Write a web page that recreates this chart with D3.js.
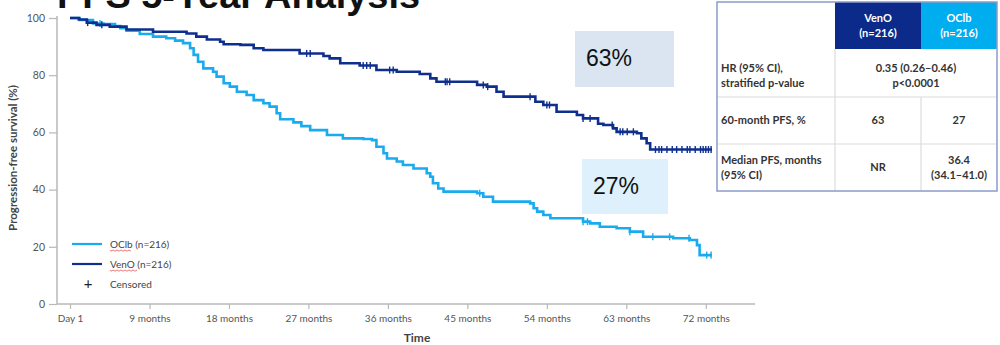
<!DOCTYPE html>
<html>
<head>
<meta charset="utf-8">
<script src="https://cdn.jsdelivr.net/npm/d3@7"></script>
<style>
  html, body { margin: 0; padding: 0; background: #fff; }
  svg { display: block; }
</style>
</head>
<body>
<svg id="chart" width="1000" height="345"></svg>
<script>
// Kaplan–Meier progression-free survival, 5-year analysis
const xTickMonths = [0, 9, 18, 27, 36, 45, 54, 63, 72];
const xTickLabels = ["Day 1", "9 months", "18 months", "27 months", "36 months",
                     "45 months", "54 months", "63 months", "72 months"];
const yTickValues = [0, 20, 40, 60, 80, 100];

// VenO arm: step points (month, % progression-free)
const venoMonths = [0, 1.0, 1.9, 3.0, 4.5, 6.4, 9.4, 13.2, 14.3, 15.5, 17.0, 17.4, 19.3, 20.8, 21.9,
  26.0, 28.7, 29.4, 30.6, 32.8, 34.7, 37.0, 39.6, 40.8, 41.5, 46.1, 47.2, 48.3, 49.1, 52.7, 53.6,
  55.1, 57.4, 58.1, 59.8, 60.4, 61.5, 61.9, 64.2, 64.7, 65.3, 65.7, 72.7];
const venoPfs = [100, 99.5, 98.4, 97.6, 97, 96, 95.2, 94.6, 93.5, 92.5, 91.7, 90.8, 90.6, 89.4, 88.8,
  87.6, 86.7, 85.9, 84.2, 83.4, 81.8, 81.2, 80.4, 78.9, 77.7, 76.6, 76, 74.2, 72.5, 70.7, 69.6,
  67.2, 66.1, 64.9, 63, 62.6, 61.4, 60.2, 59.7, 57.9, 56.2, 54, 54];

// OClb arm: step points (month, % progression-free)
const oclbMonths = [0, 1.1, 2.6, 3.8, 5.1, 5.7, 6.4, 7.9, 9.4, 10.9, 11.9, 12.8, 13.6, 14.0, 14.5,
  15.1, 16.2, 16.6, 17.4, 18.1, 18.9, 20.0, 20.8, 21.9, 22.6, 23.4, 23.8, 25.3, 26.2, 27.2, 29.1,
  30.9, 33.2, 34.2, 34.7, 35.5, 35.9, 37.0, 37.7, 38.9, 40.4, 40.8, 41.1, 41.7, 42.3, 46.1, 46.8,
  47.9, 52.1, 52.5, 52.9, 53.6, 54.4, 58.1, 58.9, 60.0, 61.9, 63.4, 64.9, 68.3, 70.2, 71.0, 71.3, 72.7];
const oclbPfs = [100, 99.3, 98.1, 97.9, 97.2, 96.4, 95.6, 94.4, 93.5, 92.9, 92.1, 91.2, 89.4, 87.1, 84.7,
  82.4, 81.2, 79.5, 77.2, 76, 74.2, 73.1, 71.3, 70.2, 69, 66.7, 64.6, 63.5, 62.2, 60.8, 59.1,
  57.9, 57.7, 57.3, 55, 52.7, 50.9, 49.8, 48.6, 47.4, 45.7, 44.5, 42.2, 40.4, 39.3, 38.7, 37.5,
  35.8, 35.2, 33.5, 32.3, 31.1, 30, 28.8, 28.2, 27, 26.5, 25.3, 23.5, 23, 22.4, 20.6, 17.1, 17.1];

// Censoring times (months)
const venoCensored = [2.0, 3.6, 26.8, 27.2, 33.2, 33.6, 34.0, 36.2, 36.6, 42.5, 42.7, 43.0,
  46.8, 47.3, 52.1, 54.0, 54.3, 58.1, 58.9, 61.4, 62.3, 62.6, 63.1, 63.8,
  66.3, 66.7, 67.0, 67.6, 68.2, 68.7, 69.3, 69.9, 70.2, 70.8, 71.4, 71.7, 72.0, 72.3, 72.6];
const oclbCensored = [3.4, 46.4, 58.1, 58.6, 63.4, 66.0, 67.9, 70.1, 72.1, 72.6];

const legendLabels = ["OClb (n=216)", "VenO (n=216)", "Censored"];
const annotations = ["63%", "27%"];

const tableHeader = [["VenO", "(n=216)"], ["OClb", "(n=216)"]];
const tableRowLabels = [["HR (95% CI),", "stratified p-value"], ["60-month PFS, %"], ["Median PFS, months", "(95% CI)"]];
const tableHr = ["0.35 (0.26–0.46)", "p<0.0001"];
const table60 = ["63", "27"];
const tableMedian = [["NR"], ["36.4", "(34.1–41.0)"]];

const C_VENO = "#0f2f8e";
const C_OCLB = "#1aabee";
const AXIS = "#b8b8b8";
const TICKTXT = "#555";
const FONT = "Lato, 'Open Sans', sans-serif";

const svg = d3.select("#chart");

const x = d3.scaleLinear().domain([0, 72]).range([70, 705.8]);
const y = d3.scaleLinear().domain([0, 100]).range([304, 18]);

// Title (runs off the top edge)
svg.append("text")
  .attr("x", 57).attr("y", 8)
  .attr("font-family", "'Liberation Sans', Arial, sans-serif")
  .attr("font-weight", "bold").attr("font-size", 36)
  .attr("fill", "#111")
  .attr("textLength", 363).attr("lengthAdjust", "spacingAndGlyphs")
  .text("PFS 5-Year Analysis");

// Y axis
const yAxis = svg.append("g")
  .attr("transform", "translate(57,0)")
  .call(d3.axisLeft(y).tickValues(yTickValues).tickSize(8).tickPadding(4));
yAxis.select(".domain").attr("stroke", AXIS).attr("stroke-width", 1.5)
  .attr("d", `M0,${y(100) - 2}V${y(0)}`);
yAxis.selectAll(".tick line").attr("stroke", AXIS).attr("stroke-width", 1.2);
yAxis.selectAll(".tick text").attr("fill", TICKTXT).attr("font-family", FONT).attr("font-size", 10.5);

// X axis
const xAxis = svg.append("g")
  .attr("transform", `translate(0,${y(0)})`)
  .call(d3.axisBottom(x).tickValues(xTickMonths)
    .tickFormat((d, i) => xTickLabels[i]).tickSize(5).tickPadding(6));
xAxis.select(".domain").attr("stroke", AXIS).attr("stroke-width", 1.5)
  .attr("d", "M57,0H755");
xAxis.selectAll(".tick line").attr("stroke", AXIS).attr("stroke-width", 1.2);
xAxis.selectAll(".tick text").attr("fill", TICKTXT).attr("font-family", FONT).attr("font-size", 10);

// Axis titles
svg.append("text")
  .attr("transform", "translate(17,158) rotate(-90)")
  .attr("text-anchor", "middle")
  .attr("font-family", FONT).attr("font-weight", "bold").attr("font-size", 11.5)
  .attr("fill", "#444")
  .text("Progression-free survival (%)");
svg.append("text")
  .attr("x", 417).attr("y", 342)
  .attr("text-anchor", "middle")
  .attr("font-family", FONT).attr("font-weight", "bold").attr("font-size", 12)
  .attr("fill", "#444")
  .text("Time");

// Annotation boxes
const boxes = [
  { text: annotations[0], x0: 575, x1: 674, y0: 31, y1: 87, fill: "#dbe5f1", tx: 586, ty: 66 },
  { text: annotations[1], x0: 582, x1: 668, y0: 159, y1: 214, fill: "#ddf0fb", tx: 593, ty: 194 }
];
boxes.forEach(b => {
  svg.append("rect").attr("x", b.x0).attr("y", b.y0)
    .attr("width", b.x1 - b.x0).attr("height", b.y1 - b.y0).attr("fill", b.fill);
  svg.append("text").attr("x", b.tx).attr("y", b.ty)
    .attr("font-family", "'Liberation Sans', Arial, sans-serif").attr("font-size", 23)
    .attr("fill", "#111").text(b.text);
});

// Survival curves
const line = d3.line().curve(d3.curveStepAfter).x(d => x(d[0])).y(d => y(d[1]));
const arms = [
  { months: oclbMonths, pfs: oclbPfs, censored: oclbCensored, color: C_OCLB },
  { months: venoMonths, pfs: venoPfs, censored: venoCensored, color: C_VENO }
];
arms.forEach(a => {
  const pts = a.months.map((m, i) => [m, a.pfs[i]]);
  svg.append("path").datum(pts)
    .attr("fill", "none").attr("stroke", a.color).attr("stroke-width", 2.6)
    .attr("d", line);
  const at = t => {
    let v = a.pfs[0];
    for (let i = 0; i < a.months.length; i++) if (a.months[i] <= t) v = a.pfs[i];
    return v;
  };
  svg.append("g").selectAll("line").data(a.censored).join("line")
    .attr("x1", d => x(d)).attr("x2", d => x(d))
    .attr("y1", d => y(at(d)) - 3.5).attr("y2", d => y(at(d)) + 3.5)
    .attr("stroke", a.color).attr("stroke-width", 1.4);
});

// Legend
const lg = svg.append("g").attr("font-family", FONT).attr("font-size", 10).attr("fill", "#444");
[[C_OCLB, 244], [C_VENO, 264]].forEach(([c, ly], i) => {
  lg.append("line").attr("x1", 72).attr("x2", 102).attr("y1", ly).attr("y2", ly)
    .attr("stroke", c).attr("stroke-width", 2.2);
  lg.append("text").attr("x", 110).attr("y", ly + 3.5).text(legendLabels[i]);
  // spell-check squiggle under the arm name
  const w = i === 0 ? 22 : 27;
  let p = `M110,${ly + 6}`;
  for (let k = 0; k < w; k += 2) p += `L${111 + k},${ly + 6 + (k % 4 === 0 ? 1.2 : 0)}`;
  lg.append("path").attr("d", p).attr("fill", "none").attr("stroke", "#e04040").attr("stroke-width", 0.7);
});
lg.append("text").attr("x", 88).attr("y", 288.5).attr("text-anchor", "middle")
  .attr("font-size", 15).attr("fill", "#222").text("+");
lg.append("text").attr("x", 110).attr("y", 287.5).text(legendLabels[2]);

// Summary table
const tx = [717, 835, 921, 997];
const ty = [2, 49, 97, 144, 191];
const tbl = svg.append("g").attr("font-family", FONT).attr("font-weight", "bold").attr("font-size", 11);
tbl.append("rect").attr("x", tx[0]).attr("y", ty[0]).attr("width", tx[3] - tx[0]).attr("height", ty[4] - ty[0])
  .attr("fill", "#fff");
tbl.append("rect").attr("x", tx[1]).attr("y", ty[0]).attr("width", tx[2] - tx[1]).attr("height", ty[1] - ty[0])
  .attr("fill", "#0b2a8a");
tbl.append("rect").attr("x", tx[2]).attr("y", ty[0]).attr("width", tx[3] - tx[2]).attr("height", ty[1] - ty[0])
  .attr("fill", "#00adef");
// inner grid
const grid = "#dcdcdc";
[ty[2], ty[3]].forEach(yy => tbl.append("line").attr("x1", tx[0]).attr("x2", tx[3]).attr("y1", yy).attr("y2", yy)
  .attr("stroke", grid).attr("stroke-width", 1.2));
tbl.append("line").attr("x1", tx[1]).attr("x2", tx[1]).attr("y1", ty[1]).attr("y2", ty[4]).attr("stroke", grid).attr("stroke-width", 1.2);
tbl.append("line").attr("x1", tx[2]).attr("x2", tx[2]).attr("y1", ty[2]).attr("y2", ty[4]).attr("stroke", grid).attr("stroke-width", 1.2);
tbl.append("rect").attr("x", tx[0]).attr("y", ty[0]).attr("width", tx[3] - tx[0]).attr("height", ty[4] - ty[0])
  .attr("fill", "none").attr("stroke", "#8c9cc8").attr("stroke-width", 1.5);

const c2 = (tx[1] + tx[2]) / 2, c3 = (tx[2] + tx[3]) / 2, c23 = (tx[1] + tx[3]) / 2;
const put = (s, xx, yy, anchor, fill) => tbl.append("text").attr("x", xx).attr("y", yy)
  .attr("text-anchor", anchor).attr("fill", fill || "#333").text(s);
put(tableHeader[0][0], c2, 22, "middle", "#fff");
put(tableHeader[0][1], c2, 37, "middle", "#fff");
put(tableHeader[1][0], c3, 22, "middle", "#fff");
put(tableHeader[1][1], c3, 37, "middle", "#fff");
put(tableRowLabels[0][0], 721, 72, "start");
put(tableRowLabels[0][1], 721, 87, "start");
put(tableHr[0], c23, 72, "middle");
put(tableHr[1], c23, 87, "middle");
put(tableRowLabels[1][0], 721, 124, "start");
put(table60[0], c2, 124, "middle");
put(table60[1], c3, 124, "middle");
put(tableRowLabels[2][0], 721, 164, "start");
put(tableRowLabels[2][1], 721, 179, "start");
put(tableMedian[0][0], c2, 171, "middle");
put(tableMedian[1][0], c3, 164, "middle");
put(tableMedian[1][1], c3, 179, "middle");
</script>
</body>
</html>
